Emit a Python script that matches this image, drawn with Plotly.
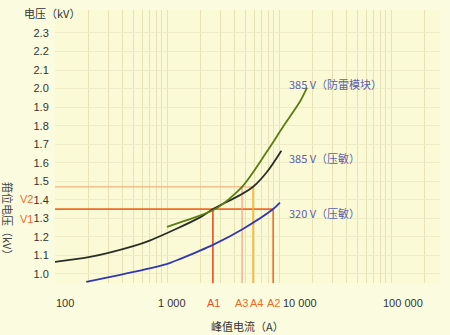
import numpy as np
import plotly.graph_objects as go

# ---- data ----
# 385 V varistor (black)
i_385v = [100, 200, 500, 700, 1230, 1970, 2570, 4490, 5870, 7800, 10500]
v_385v = [1.065, 1.09, 1.15, 1.18, 1.245, 1.305, 1.35, 1.425, 1.47, 1.55, 1.665]
# 385 V surge-protection module (green)
i_385m = [1000, 1390, 2700, 4680, 7800, 10900, 15400, 17800]
v_385m = [1.254, 1.283, 1.35, 1.47, 1.66, 1.795, 1.93, 2.005]
# 320 V varistor (blue)
i_320v = [190, 700, 1070, 1300, 2570, 4680, 8870, 10200]
v_320v = [0.957, 1.03, 1.06, 1.08, 1.157, 1.24, 1.35, 1.385]

V1, V2 = 1.35, 1.47
A1, A3, A4, A2 = 2570, 4680, 5870, 8870

ytick_vals = [1.0, 1.1, 1.2, 1.3, 1.4, 1.5, 1.6, 1.7, 1.8, 1.9, 2.0, 2.1, 2.2, 2.3]
xtick_vals = [100, 1000, 10000, 100000]
xtick_text = ["100", "1 000", "10 000", "100 000"]
xtick_label_pos = [123, 1110, 15500, 128000]
a_names = ["A1", "A3", "A4", "A2"]
a_vals = [A1, A3, A4, A2]
a_label_pos = [2576, 4660, 6330, 9000]
series_labels = ["385 V（防雷模块）", "385 V（压敏）", "320 V（压敏）"]
series_label_y = [2.027, 1.627, 1.33]

YMIN, YMAX = 0.951, 2.424
XMIN, XMAX = 2.0, 5.4375

# plot area in pixels (for placing free texts)
PL, PR, PT, PB = 55, 440, 10, 283
def px(x):
    return (x - PL) / (PR - PL)
def py(y):
    return (PB - y) / (PB - PT)

FONT = "Liberation Sans, Noto Sans CJK SC"
CJK = "Noto Sans CJK SC"
C_RED = "#ee4a24"
C_ORANGE = "#f26a26"
C_LORANGE = "#f8b07c"
C_SALMON = "#f7a585"
C_YEL = "#f6b62e"
C_TXT = "#5a5fb0"

fig = go.Figure()

# reference lines
ref_lines = [
    ([10 ** XMIN, A2], [V1, V1], C_ORANGE, 1.8),
    ([10 ** XMIN, A4], [V2, V2], C_LORANGE, 1.3),
    ([A1, A1], [YMIN, V1], C_RED, 1.6),
    ([A3, A3], [YMIN, V2], C_SALMON, 1.3),
    ([A4, A4], [YMIN, V2], C_YEL, 1.6),
    ([A2, A2], [YMIN, V1], C_ORANGE, 1.6),
]
for xs, ys, c, w in ref_lines:
    fig.add_trace(go.Scatter(x=xs, y=ys, mode="lines", line=dict(color=c, width=w),
                             showlegend=False, hoverinfo="skip"))

curves = [
    (i_385v, v_385v, "#2a2e26"),
    (i_385m, v_385m, "#5b7d12"),
    (i_320v, v_320v, "#3438b0"),
]
for xs, ys, c in curves:
    fig.add_trace(go.Scatter(x=xs, y=ys, mode="lines",
                             line=dict(color=c, width=1.8, shape="spline", smoothing=0.8),
                             showlegend=False))

ann = []
for t, p in zip(xtick_text, xtick_label_pos):
    ann.append(dict(x=np.log10(p), y=py(303), xref="x", yref="paper", text=t, showarrow=False,
                    font=dict(family=FONT, size=11, color="#333333"), xanchor="center", yanchor="middle"))
for n, p in zip(a_names, a_label_pos):
    ann.append(dict(x=np.log10(p), y=py(303), xref="x", yref="paper", text=n, showarrow=False,
                    font=dict(family=FONT, size=11, color=C_RED if n == "A1" else C_ORANGE),
                    xanchor="center", yanchor="middle"))
for t, y in zip(series_labels, series_label_y):
    ann.append(dict(x=np.log10(11800), y=y, xref="x", yref="y", text=t, showarrow=False,
                    font=dict(family=CJK, size=11, color=C_TXT), xanchor="left", yanchor="middle"))
ann.append(dict(x=px(35), y=1.405, xref="paper", yref="y", text="V2", showarrow=False,
                font=dict(family=FONT, size=11, color=C_ORANGE), xanchor="right", yanchor="middle"))
ann.append(dict(x=px(35), y=1.295, xref="paper", yref="y", text="V1", showarrow=False,
                font=dict(family=FONT, size=11, color=C_ORANGE), xanchor="right", yanchor="middle"))
ann.append(dict(x=px(22), y=py(13), xref="paper", yref="paper", text="电压（kV）", showarrow=False,
                font=dict(family=CJK, size=11, color="#333333"), xanchor="left", yanchor="middle"))
ann.append(dict(x=px(247), y=py(326), xref="paper", yref="paper", text="峰值电流（A）", showarrow=False,
                font=dict(family=CJK, size=11, color="#333333"), xanchor="center", yanchor="middle"))
ann.append(dict(x=px(8), y=py(221), xref="paper", yref="paper", text="箝位电压（kV）", showarrow=False,
                textangle=90, font=dict(family=CJK, size=11, color="#444444"), xanchor="center", yanchor="middle"))

grid_x = [m * 10 ** e for e in range(2, 6) for m in range(1, 10)] + [200000]

fig.update_layout(
    width=450, height=335,
    margin=dict(l=PL, r=450 - PR, t=PT, b=335 - PB),
    paper_bgcolor="#fbfcdf",
    plot_bgcolor="#fafbd6",
    annotations=ann,
    xaxis=dict(type="log", range=[XMIN, XMAX], tickvals=grid_x, showticklabels=False,
               showgrid=True, gridcolor="#e6e2b6", gridwidth=1, zeroline=False, showline=False, ticks=""),
    yaxis=dict(range=[YMIN, YMAX], tickvals=ytick_vals, ticktext=[f"{v:.1f}" for v in ytick_vals],
               tickfont=dict(family=FONT, size=11, color="#333333"),
               showgrid=True, gridcolor="#eeecc6", gridwidth=1, zeroline=False, showline=False,
               ticks="outside", ticklen=3, tickcolor="rgba(0,0,0,0)"),
)

fig.write_html("out.html")
